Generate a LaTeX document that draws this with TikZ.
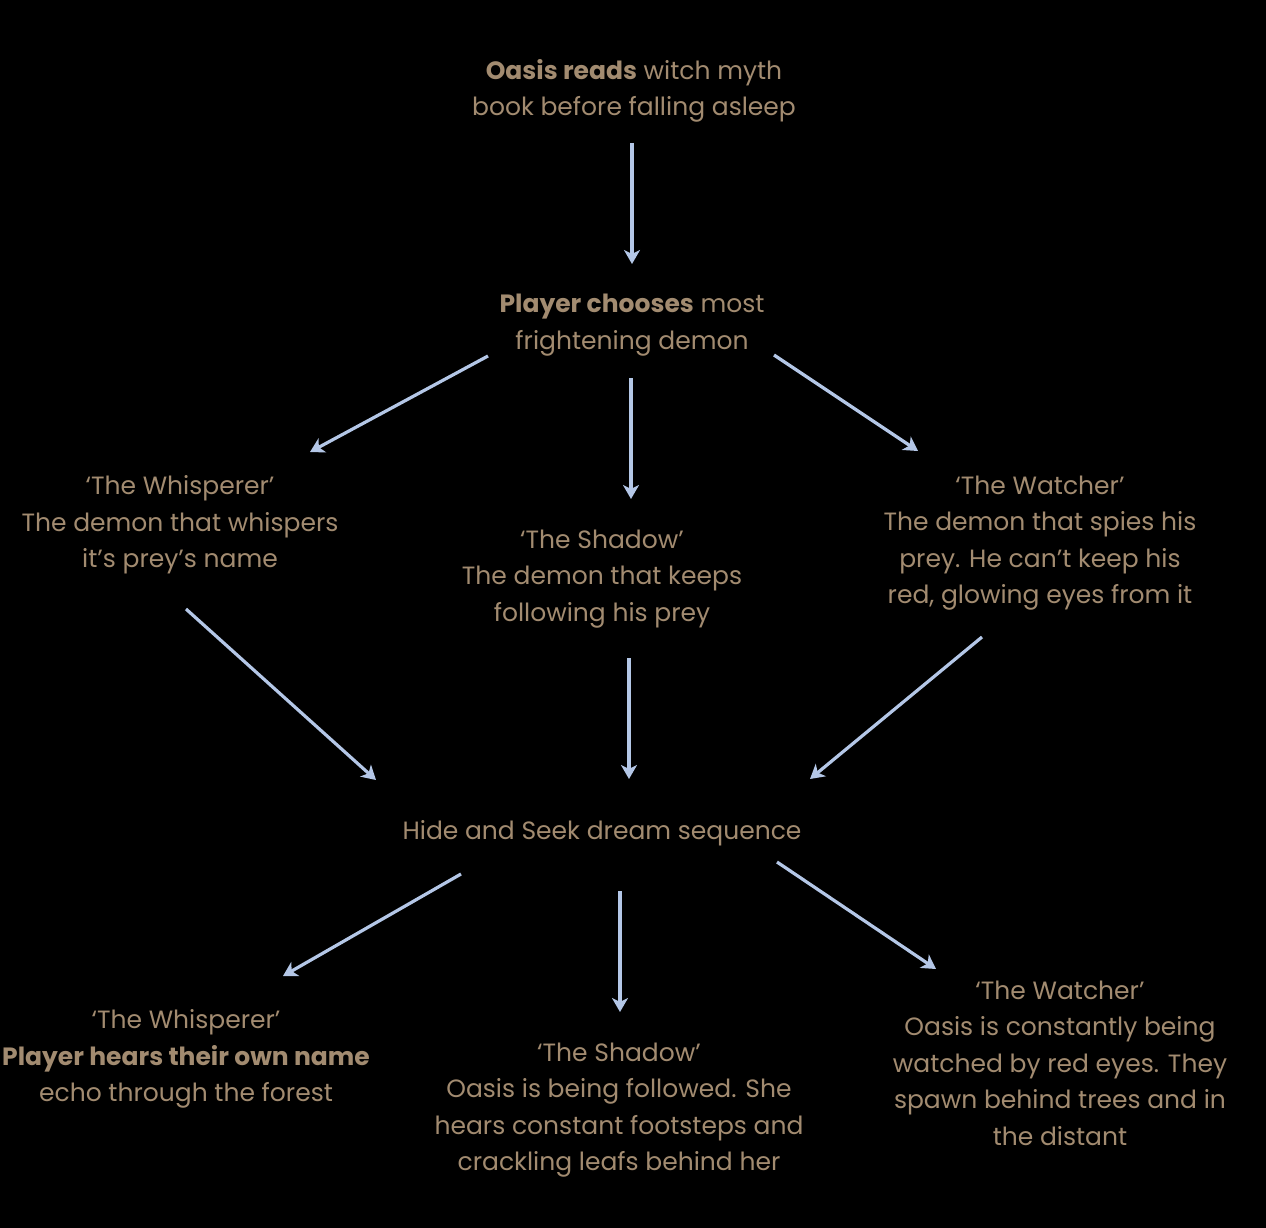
\documentclass[tikz,border=0pt]{standalone}
\usepackage{fontspec}
\setmainfont{Poppins}
\usetikzlibrary{arrows.meta}
\definecolor{tan}{RGB}{162,139,112}
\definecolor{arr}{RGB}{180,199,231}
\begin{document}
\begin{tikzpicture}[x=1pt,y=-1pt,
  txt/.style={text=tan,align=center,font=\fontsize{25}{36.5}\selectfont,inner sep=0pt},
  conn/.style={draw=arr,line width=3.2pt,-{Stealth[length=14pt,width=16pt,inset=4pt]}}]
\fill[black] (0,0) rectangle (1266,1228);
\useasboundingbox (0,0) rectangle (1266,1228);
\node[txt] (n1) at (634,91) {\textbf{Oasis reads} witch myth\\book before falling asleep};
\node[txt] (n2) at (632,325) {\textbf{Player chooses} most\\frightening demon};
\node[txt] (w1) at (180,525) {‘The Whisperer’\\The demon that whispers\\it’s prey’s name};
\node[txt] (s1) at (602,579) {‘The Shadow’\\The demon that keeps\\following his prey};
\node[txt] (t1) at (1040,543) {‘The Watcher’\\The demon that spies his\\prey. He can’t keep his\\red, glowing eyes from it};
\node[txt] (h) at (602,833) {Hide and Seek dream sequence};
\node[txt] (w2) at (186,1059) {‘The Whisperer’\\\textbf{Player hears their own name}\\echo through the forest};
\node[txt] (s2) at (619,1110) {‘The Shadow’\\Oasis is being followed. She\\hears constant footsteps and\\crackling leafs behind her};
\node[txt] (t2) at (1060,1063) {‘The Watcher’\\Oasis is constantly being\\watched by red eyes. They\\spawn behind trees and in\\the distant};
\coordinate (a1s) at (632,143); \coordinate (a1e) at (632,264);
\coordinate (a2s) at (488,356); \coordinate (a2e) at (310,452);
\coordinate (a3s) at (631,378); \coordinate (a3e) at (631,499);
\coordinate (a4s) at (774,355); \coordinate (a4e) at (918,451);
\coordinate (a5s) at (186,609); \coordinate (a5e) at (376,780);
\coordinate (a6s) at (629,658); \coordinate (a6e) at (629,779);
\coordinate (a7s) at (982,637); \coordinate (a7e) at (810,779);
\coordinate (a8s) at (461,874); \coordinate (a8e) at (283,976);
\coordinate (a9s) at (620,891); \coordinate (a9e) at (620,1012);
\coordinate (a10s) at (777,862); \coordinate (a10e) at (936,969);
\foreach \i in {1,...,10} \draw[conn] (a\i s) -- (a\i e);
\end{tikzpicture}
\end{document}
